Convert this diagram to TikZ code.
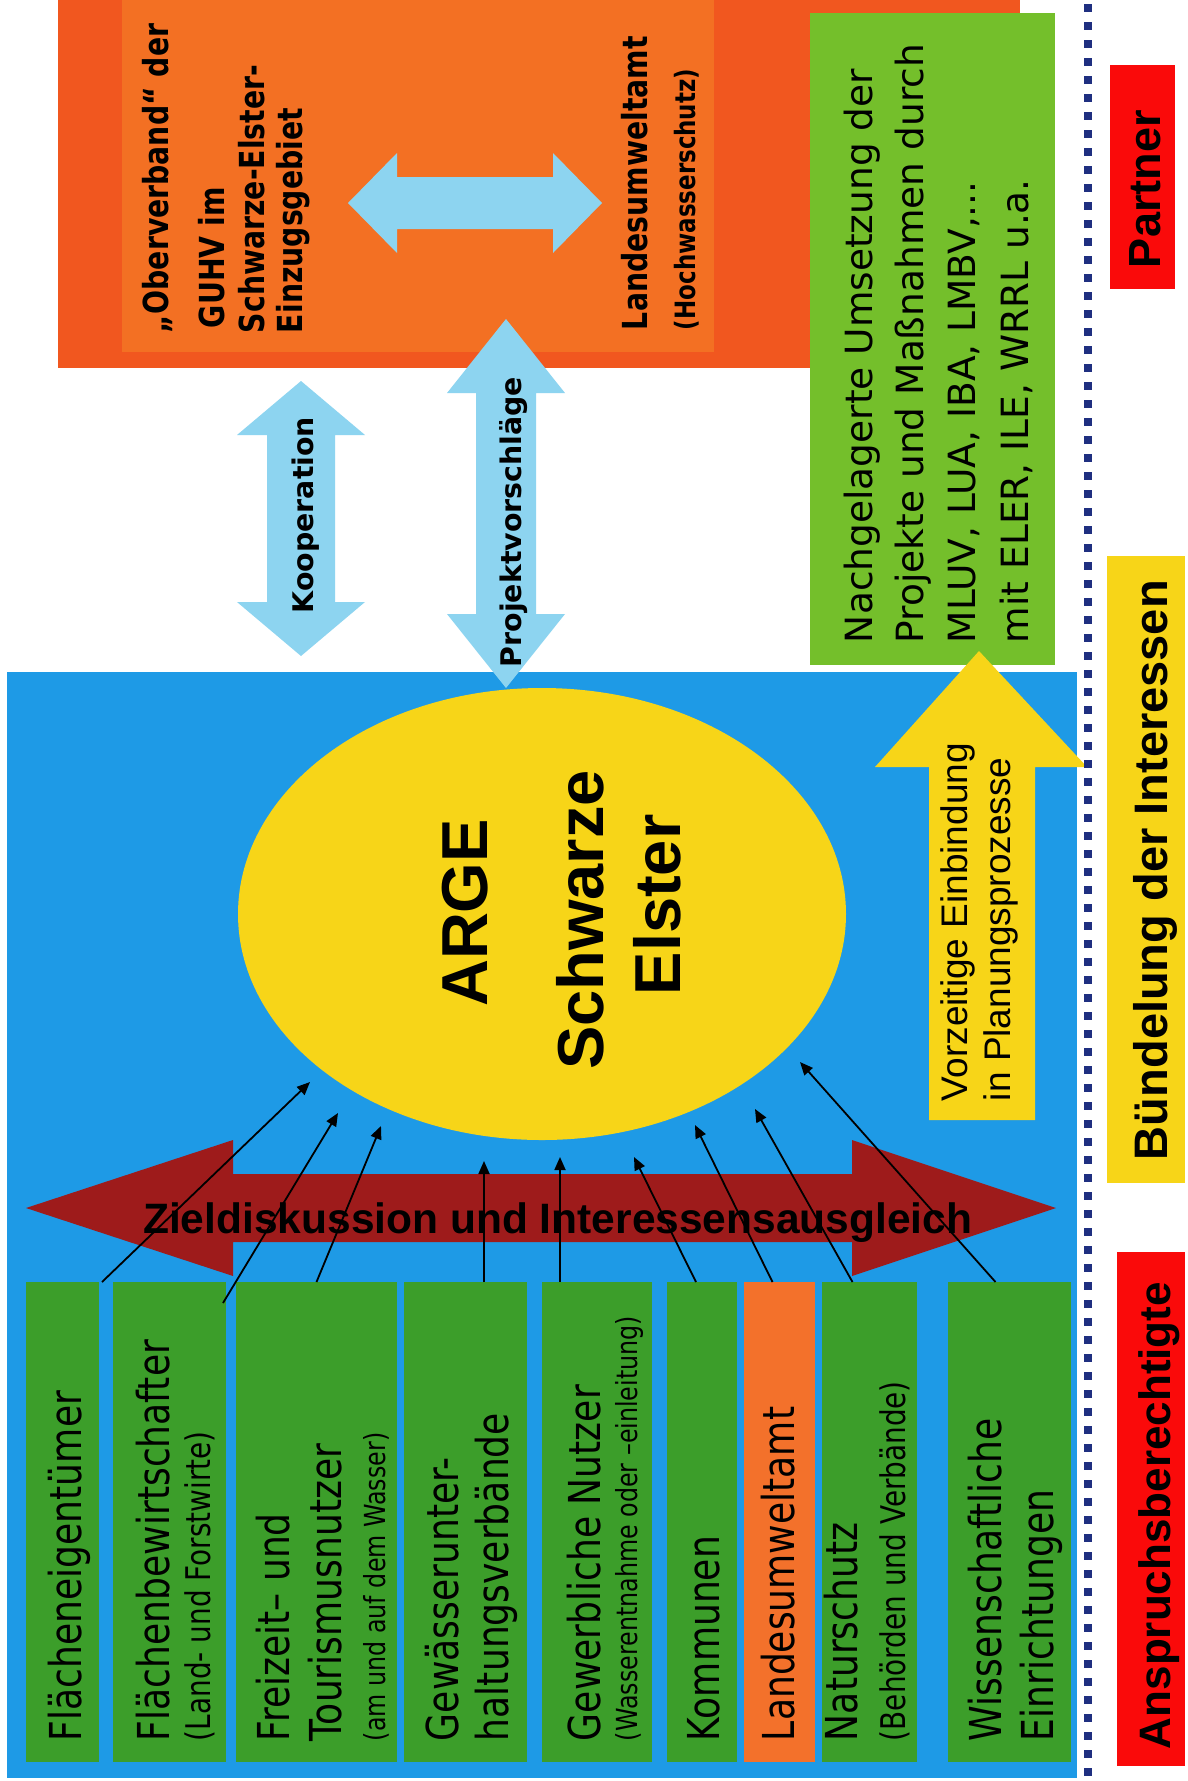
\documentclass[tikz,border=0pt]{standalone}
\usepackage{fontspec}
\usetikzlibrary{shapes.geometric,arrows.meta}
\newfontfamily\tahf[FakeStretch=0.82]{DejaVu Sans}
\newfontfamily\dvsf{DejaVu Sans}
\newfontfamily\libf{Liberation Sans}
\newcommand\fsz[1]{\fontsize{#1}{#1}\selectfont}
\definecolor{orOuter}{HTML}{F1571F}
\definecolor{orInner}{HTML}{F37023}
\definecolor{lblue}{HTML}{8DD4F0}
\definecolor{bluebg}{HTML}{1E9AE6}
\definecolor{yel}{HTML}{F7D518}
\definecolor{ggreen}{HTML}{3C9E2A}
\definecolor{lgreen}{HTML}{74BF2B}
\definecolor{orsmall}{HTML}{F3712B}
\definecolor{dred}{HTML}{9E1B1B}
\definecolor{lred}{HTML}{FA0A0A}
\definecolor{navyd}{HTML}{1F2F80}
% vertical double arrow: color, cx, ytop, ybot, headlen, headhalf, shafthalf
\newcommand\vdarrow[7]{%
\fill[#1] (#2,#3) -- ({#2+#6},{#3+#5}) -- ({#2+#7},{#3+#5}) -- ({#2+#7},{#4-#5}) -- ({#2+#6},{#4-#5}) -- (#2,#4) -- ({#2-#6},{#4-#5}) -- ({#2-#7},{#4-#5}) -- ({#2-#7},{#3+#5}) -- ({#2-#6},{#3+#5}) -- cycle;}
% horizontal double arrow: color, cy, xl, xr, headlenL, headlenR, headhalf, shafthalf
\newcommand\hdarrow[8]{%
\fill[#1] (#3,#2) -- ({#3+#5},{#2-#7}) -- ({#3+#5},{#2-#8}) -- ({#4-#6},{#2-#8}) -- ({#4-#6},{#2-#7}) -- (#4,#2) -- ({#4-#6},{#2+#7}) -- ({#4-#6},{#2+#8}) -- ({#3+#5},{#2+#8}) -- ({#3+#5},{#2+#7}) -- cycle;}
\tikzset{
 rect/.style={rectangle, draw=none, inner sep=0pt, outer sep=0pt, anchor=north west},
 rtx/.style={rotate=90, anchor=base west, inner sep=0pt, outer sep=0pt, text=black},
 gtxt/.style={rtx, font=\tahf\fsz{44}},
 gsmall/.style={rtx, font=\tahf\fsz{#1}},
 otxt/.style={rtx, font=\tahf\bfseries\fsz{34.5}},
 ntxt/.style={rtx, font=\dvsf\fsz{37.5}},
 vtxt/.style={rtx, font=\libf\fsz{37}},
 ltxt/.style={rtx, font=\libf\bfseries\fsz{#1}},
 atxt/.style={rotate=90, anchor=base, inner sep=0pt, font=\libf\bfseries\fsz{65}},
 arrlabel/.style={rotate=90, anchor=base, inner sep=0pt, font=\dvsf\bfseries\fsz{28.4}},
 conn/.style={-{Triangle[length=13pt,width=11pt]}, line width=1.8pt, black},
}
\begin{document}
\begin{tikzpicture}[x=1pt,y=-1pt]
\useasboundingbox (0,0) rectangle (1187,1781);
\fill[white] (0,0) rectangle (1187,1781);

% orange partner box
\node[rect, fill=orOuter, minimum width=962pt, minimum height=368pt] (orbox) at (58,0) {};
\node[rect, fill=orInner, minimum width=592pt, minimum height=352pt] (orin) at (122,0) {};

% Kooperation arrow
\vdarrow{lblue}{301}{381}{656}{54}{64}{34}

% big blue area
\node[rect, fill=bluebg, minimum width=1070pt, minimum height=1106pt] (bluebg) at (7,672) {};

% Projektvorschlaege arrow and arrow inside orange box
\vdarrow{lblue}{506}{319}{688}{74}{59}{30}
\hdarrow{lblue}{203}{348}{602}{49}{49}{50}{26}

% green box top right
\node[rect, fill=lgreen, minimum width=245pt, minimum height=652pt] (nach) at (810,13) {};

% ellipse
\node[ellipse, fill=yel, draw=none, minimum width=608pt, minimum height=452pt, inner sep=0pt] (arge) at (542,914) {};

% yellow up arrow
\fill[yel] (979,651) -- (1087,767) -- (1035,767) -- (1035,1120) -- (929,1120) -- (929,767) -- (875,767) -- cycle;

% dark red double arrow
\hdarrow{dred}{1208}{26}{1056}{207}{204}{68}{34}

% stakeholder boxes
\node[rect, fill=ggreen, minimum width=73pt, minimum height=480pt] (b1) at (26,1282) {};
\node[rect, fill=ggreen, minimum width=113pt, minimum height=480pt] (b2) at (113,1282) {};
\node[rect, fill=ggreen, minimum width=161pt, minimum height=480pt] (b3) at (236,1282) {};
\node[rect, fill=ggreen, minimum width=123pt, minimum height=480pt] (b4) at (404,1282) {};
\node[rect, fill=ggreen, minimum width=110pt, minimum height=480pt] (b5) at (542,1282) {};
\node[rect, fill=ggreen, minimum width=70pt, minimum height=480pt] (b6) at (667,1282) {};
\node[rect, fill=orsmall, minimum width=71pt, minimum height=480pt] (b7) at (744,1282) {};
\node[rect, fill=ggreen, minimum width=95pt, minimum height=480pt] (b8) at (822,1282) {};
\node[rect, fill=ggreen, minimum width=123pt, minimum height=480pt] (b9) at (948,1282) {};

% connector end points near the ellipse
\coordinate (e1) at (310,1082);
\coordinate (e2) at (338,1113);
\coordinate (e3) at (381,1126);
\coordinate (e4) at (484,1161);
\coordinate (e5) at (560,1157);
\coordinate (e6) at (634,1157);
\coordinate (e7) at (695,1125);
\coordinate (e8) at (755,1109);
\coordinate (e9) at (800,1062);

\draw[conn] ([xshift=3pt]b1.north east) -- (e1);
\draw[conn] ([xshift=-3pt,yshift=-21pt]b2.north east) -- (e2);
\draw[conn] (b3.north) -- (e3);
\draw[conn] (b4.north -| e4) -- (e4);
\draw[conn] (b5.north -| e5) -- (e5);
\draw[conn] ([xshift=-6pt]b6.north) -- (e6);
\draw[conn] ([xshift=-7pt]b7.north) -- (e7);
\draw[conn] ([xshift=-17pt]b8.north) -- (e8);
\draw[conn] ([xshift=-14pt]b9.north) -- (e9);

% red arrow text
\node[anchor=base west, inner sep=0pt, font=\libf\bfseries\fsz{42.5}] (ziel) at (143,1233) {Zieldiskussion und Interessensausgleich};

% ellipse text
\node[atxt] (arg1) at (487,913) {ARGE};
\node[atxt] (arg2) at (603,920) {Schwarze};
\node[atxt] (arg3) at (680,905) {Elster};

% stakeholder texts
\node[gtxt] (t1) at (81,1741) {Flächeneigentümer};
\node[gtxt] (t2a) at (169,1741) {Flächenbewirtschafter};
\node[gsmall=34] (t2b) at (210,1741) {(Land- und Forstwirte)};
\node[gtxt] (t3a) at (289,1741) {Freizeit– und};
\node[gtxt] (t3b) at (341,1741) {Tourismusnutzer};
\node[gsmall=29] (t3c) at (385,1741) {(am und auf dem Wasser)};
\node[gtxt] (t4a) at (458,1741) {Gewässerunter-};
\node[gtxt] (t4b) at (508,1741) {haltungsverbände};
\node[gtxt] (t5a) at (600,1741) {Gewerbliche Nutzer};
\node[gsmall=29] (t5b) at (637,1741) {(Wasserentnahme oder –einleitung)};
\node[gtxt] (t6) at (719,1741) {Kommunen};
\node[gtxt] (t7) at (794,1741) {Landesumweltamt};
\node[gtxt] (t8a) at (857,1741) {Naturschutz};
\node[gsmall=34] (t8b) at (905,1741) {(Behörden und Verbände)};
\node[gtxt] (t9a) at (1001,1741) {Wissenschaftliche};
\node[gtxt] (t9b) at (1053,1741) {Einrichtungen};

% orange box texts
\node[otxt] (o1) at (168,333) {„Oberverband“ der};
\node[otxt] (o2) at (224,328) {GUHV im};
\node[otxt] (o3) at (264,333) {Schwarze-Elster-};
\node[otxt] (o4) at (302,333) {Einzugsgebiet};
\node[otxt] (o5) at (647,330) {Landesumweltamt};
\node[rtx, font=\tahf\bfseries\fsz{28}] (o6) at (695,330) {(Hochwasserschutz)};

% arrow labels
\node[arrlabel] (koop) at (313,515) {Kooperation};
\node[arrlabel] (proj) at (521,522) {Projektvorschläge};

% green top-right text
\node[ntxt] (n1) at (872,643) {Nachgelagerte Umsetzung der};
\node[ntxt] (n2) at (923,643) {Projekte und Maßnahmen durch};
\node[ntxt] (n3) at (975,643) {MLUV, LUA, IBA, LMBV,...};
\node[ntxt] (n4) at (1028,643) {mit ELER, ILE, WRRL u.a.};

% yellow arrow text
\node[vtxt] (v1) at (967,1101) {Vorzeitige Einbindung};
\node[vtxt] (v2) at (1010,1101) {in Planungsprozesse};

% divider
\draw[navyd, line width=8pt, dash pattern=on 8pt off 10pt] (1088,4) -- (1088,1781);

% side labels
\node[rect, fill=lred, minimum width=65pt, minimum height=224pt] (partnerbox) at (1110,65) {};
\node[ltxt=45] (partner) at (1160,268) {Partner};
\node[rect, fill=yel, minimum width=78pt, minimum height=627pt] (buendbox) at (1107,556) {};
\node[ltxt=47] (buend) at (1167,1160) {Bündelung der Interessen};
\node[rect, fill=lred, minimum width=68pt, minimum height=514pt] (ansprbox) at (1117,1252) {};
\node[ltxt=44] (anspr) at (1170,1749) {Anspruchsberechtigte};
\end{tikzpicture}
\end{document}
